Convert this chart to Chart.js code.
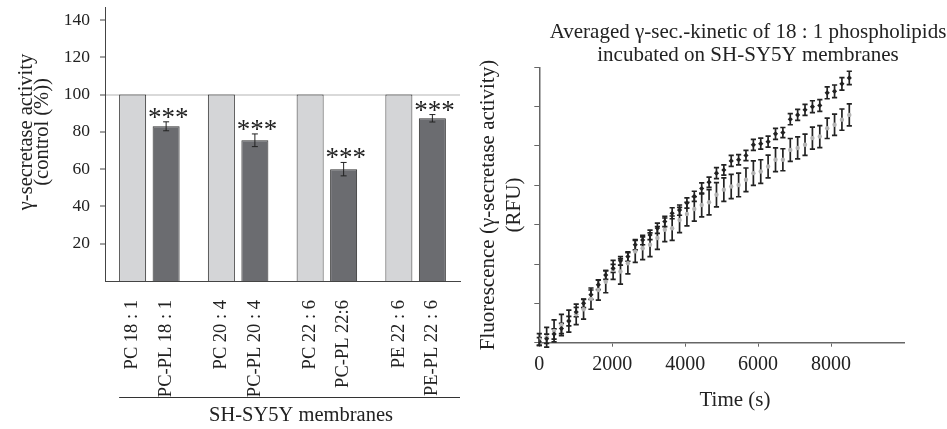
<!DOCTYPE html>
<html>
<head>
<meta charset="utf-8">
<script src="https://cdn.jsdelivr.net/npm/chart.js@4.4.1/dist/chart.umd.min.js"></script>
<style>
body { margin: 0; background: #fff; }
#barChart { position: absolute; left: 0; top: 0; }
#kineticChart { position: absolute; left: 470px; top: 0; }
</style>
</head>
<body>
<canvas id="barChart" width="470" height="429"></canvas>
<canvas id="kineticChart" width="477" height="429"></canvas>
<script>
// left panel
const barLabels = ["PC 18 : 1", "PC-PL 18 : 1", "PC 20 : 4", "PC-PL 20 : 4", "PC 22 : 6", "PC-PL 22:6", "PE 22 : 6", "PE-PL 22 : 6"];
const controlValues = [100, 100, 100, 100];
const plValues = [83, 75.5, 60, 87.3];
const plErrors = [2.4, 3.4, 3.6, 2.0];
const barTicks = [20, 40, 60, 80, 100, 120, 140];
const groupTitle = "SH-SY5Y membranes";
const barAxisTitle = ["\u03b3-secretase activity", "(control (%))"];

// right panel
const kineticTimes = [0, 202, 405, 607, 810, 1012, 1214, 1417, 1619, 1822, 2024, 2226, 2429, 2631, 2834, 3036, 3238, 3441, 3643, 3846, 4048, 4250, 4453, 4655, 4858, 5060, 5262, 5465, 5667, 5870, 6072, 6274, 6477, 6679, 6882, 7084, 7286, 7489, 7691, 7894, 8096, 8298, 8500];
const kineticControl = [0.03, 0.10, 0.22, 0.36, 0.55, 0.78, 1.00, 1.22, 1.47, 1.72, 1.89, 2.08, 2.19, 2.49, 2.61, 2.74, 2.91, 3.08, 3.29, 3.37, 3.55, 3.72, 3.92, 4.08, 4.31, 4.39, 4.62, 4.65, 4.76, 5.03, 5.06, 5.11, 5.31, 5.34, 5.68, 5.79, 5.92, 6.00, 6.03, 6.35, 6.39, 6.58, 6.73];
const kineticControlErr = [0.10, 0.12, 0.13, 0.13, 0.12, 0.12, 0.11, 0.12, 0.12, 0.11, 0.10, 0.11, 0.12, 0.13, 0.12, 0.12, 0.13, 0.13, 0.14, 0.13, 0.13, 0.13, 0.14, 0.13, 0.14, 0.13, 0.14, 0.13, 0.13, 0.14, 0.14, 0.14, 0.14, 0.13, 0.14, 0.14, 0.14, 0.15, 0.15, 0.15, 0.16, 0.16, 0.17];
const kineticPL = [0.08, 0.14, 0.30, 0.45, 0.55, 0.72, 0.85, 1.12, 1.34, 1.55, 1.85, 1.81, 2.02, 2.32, 2.40, 2.49, 2.66, 2.87, 2.91, 3.12, 3.27, 3.40, 3.50, 3.57, 3.76, 3.89, 3.97, 4.01, 4.14, 4.31, 4.35, 4.48, 4.65, 4.65, 4.90, 4.95, 5.03, 5.20, 5.24, 5.45, 5.54, 5.67, 5.79];
const kineticPLErr = [0.15, 0.25, 0.28, 0.27, 0.28, 0.26, 0.25, 0.27, 0.26, 0.28, 0.24, 0.32, 0.27, 0.28, 0.29, 0.30, 0.29, 0.30, 0.31, 0.32, 0.30, 0.31, 0.30, 0.32, 0.31, 0.30, 0.31, 0.30, 0.30, 0.31, 0.30, 0.29, 0.30, 0.28, 0.29, 0.28, 0.27, 0.28, 0.28, 0.26, 0.27, 0.27, 0.28];
const timeTicks = [0, 2000, 4000, 6000, 8000];
const rfuTicks = [0, 1, 2, 3, 4, 5, 6, 7];
const kineticTitle = ["Averaged \u03b3-sec.-kinetic of 18 : 1 phospholipids", "incubated on SH-SY5Y membranes"];
const rfuTitle = ["Fluorescence (\u03b3-secretase activity)", "(RFU)"];
const timeTitle = "Time (s)";

const FONT = '"Liberation Serif", "Times New Roman", serif';
Chart.defaults.font.family = FONT;
Chart.defaults.color = '#222';

function drawText(ctx, text, x, y, size, rot){
    ctx.save();
    ctx.translate(x, y);
    ctx.rotate(rot || 0);
    ctx.font = size + 'px ' + FONT;
    ctx.fillStyle = '#222';
    ctx.textAlign = 'center';
    ctx.textBaseline = 'middle';
    ctx.fillText(text, 0, 0);
    ctx.restore();
}

function drawErrorBar(ctx, x, top, bot, cap){
    ctx.beginPath();
    ctx.moveTo(x, top);
    ctx.lineTo(x, bot);
    ctx.moveTo(x - cap, top);
    ctx.lineTo(x + cap, top);
    ctx.moveTo(x - cap, bot);
    ctx.lineTo(x + cap, bot);
    ctx.stroke();
}

function groupedLabels(){
    let arr = [];
    for (let i = 0; i < barLabels.length; i += 2){
        arr.push([barLabels[i], barLabels[i + 1]]);
    }
    return arr;
}

const barExtras = {
    id: 'barExtras',
    afterDatasetsDraw(chart){
        const ctx = chart.ctx;
        const y = chart.scales.y;
        const bars = chart.getDatasetMeta(1).data;
        ctx.save();
        ctx.strokeStyle = '#222';
        ctx.lineWidth = 1;
        for (let i = 0; i < bars.length; i++){
            let x = bars[i].x;
            let top = y.getPixelForValue(plValues[i] + plErrors[i]);
            let bot = y.getPixelForValue(plValues[i] - plErrors[i]);
            drawErrorBar(ctx, x, top, bot, 3);
            ctx.font = '27px ' + FONT;
            ctx.fillStyle = '#222';
            ctx.textAlign = 'center';
            ctx.textBaseline = 'alphabetic';
            for (let k = -1; k <= 1; k++){
                ctx.fillText('*', x + 2 + k * 13.5, top - 10 + 14);
            }
        }
        const area = chart.chartArea;
        drawText(ctx, barAxisTitle[0], 27, 132, 20.5, -Math.PI / 2);
        drawText(ctx, barAxisTitle[1], 43, 132, 20.5, -Math.PI / 2);
        const first = chart.getDatasetMeta(0).data[0];
        ctx.strokeStyle = '#333';
        ctx.beginPath();
        ctx.moveTo(first.x - first.width / 2, 397.5);
        ctx.lineTo(area.right, 397.5);
        ctx.stroke();
        drawText(ctx, groupTitle, 301, 416, 20.5, 0);
        ctx.restore();
    }
};

new Chart(document.getElementById('barChart'), {
    type: 'bar',
    data: {
        labels: groupedLabels(),
        datasets: [{
            label: 'control',
            data: controlValues,
            backgroundColor: '#d4d5d7',
            borderColor: '#333',
            borderWidth: 1,
            categoryPercentage: 0.755,
            barPercentage: 0.806
        }, {
            label: 'phospholipid',
            data: plValues,
            backgroundColor: '#6b6c70',
            borderColor: '#333',
            borderWidth: 1,
            categoryPercentage: 0.755,
            barPercentage: 0.806
        }]
    },
    options: {
        responsive: false,
        animation: false,
        layout: { padding: { top: 7, right: 10, left: 0, bottom: 0 } },
        plugins: {
            legend: { display: false },
            tooltip: { enabled: false }
        },
        scales: {
            x: {
                grid: { display: false },
                border: { color: '#444', width: 1 },
                ticks: {
                    autoSkip: false,
                    minRotation: 90,
                    maxRotation: 90,
                    padding: 11,
                    labelOffset: -16.75,
                    font: { size: 18.5, lineHeight: 1.811 }
                },
                afterFit: function(s){ s.height = 148; s.paddingLeft = 0; s.paddingRight = 0; }
            },
            y: {
                min: 0,
                max: 147,
                afterBuildTicks: function(s){ s.ticks = barTicks.map(v => ({ value: v })); },
                grid: {
                    color: c => (c.tick && c.tick.value === 100) ? '#d9d9d9' : 'rgba(0,0,0,0)',
                    lineWidth: 2,
                    tickColor: '#444',
                    tickWidth: 1,
                    tickLength: 5
                },
                border: { color: '#444', width: 1 },
                ticks: { padding: 10, font: { size: 17.5 } },
                afterFit: function(s){ s.width = 105; s.paddingTop = 0; s.paddingBottom = 0; }
            }
        }
    },
    plugins: [barExtras]
});

function toPoints(values){
    let pts = [];
    for (let i = 0; i < values.length; i++){
        pts.push({ x: kineticTimes[i], y: values[i] });
    }
    return pts;
}

const kineticExtras = {
    id: 'kineticExtras',
    beforeDatasetsDraw(chart){
        const ctx = chart.ctx;
        const y = chart.scales.y;
        const sets = [[kineticControl, kineticControlErr], [kineticPL, kineticPLErr]];
        ctx.save();
        ctx.strokeStyle = '#222';
        ctx.lineWidth = 1.7;
        for (let d = 0; d < sets.length; d++){
            let pts = chart.getDatasetMeta(d).data;
            for (let i = 0; i < pts.length; i++){
                let top = y.getPixelForValue(sets[d][0][i] + sets[d][1][i]);
                let bot = y.getPixelForValue(sets[d][0][i] - sets[d][1][i]);
                drawErrorBar(ctx, pts[i].x, top, bot, 2.6);
            }
        }
        ctx.restore();
    },
    afterDraw(chart){
        const ctx = chart.ctx;
        drawText(ctx, kineticTitle[0], 278, 32, 21, 0);
        drawText(ctx, kineticTitle[1], 278, 55, 21, 0);
        drawText(ctx, timeTitle, 265, 400, 21, 0);
    }
};

new Chart(document.getElementById('kineticChart'), {
    type: 'scatter',
    data: {
        datasets: [{
            label: 'control',
            data: toPoints(kineticControl),
            pointStyle: 'rectRot',
            pointRadius: 2.6,
            backgroundColor: '#222',
            borderWidth: 0
        }, {
            label: 'phospholipid',
            data: toPoints(kineticPL),
            pointStyle: 'circle',
            pointRadius: 2.2,
            backgroundColor: '#b3b3b3',
            borderWidth: 0
        }]
    },
    options: {
        responsive: false,
        animation: false,
        layout: { padding: { top: 67.3, right: 43, left: 0, bottom: 0 } },
        plugins: {
            legend: { display: false },
            tooltip: { enabled: false }
        },
        scales: {
            x: {
                type: 'linear',
                min: 0,
                max: 10000,
                afterBuildTicks: function(s){ s.ticks = timeTicks.map(v => ({ value: v })); },
                grid: { drawOnChartArea: false, tickLength: 4, tickColor: '#666', tickWidth: 1 },
                border: { color: '#666', width: 1.5 },
                ticks: { padding: 6, font: { size: 20 }, callback: v => String(v) },
                afterFit: function(s){ s.height = 86.3; s.paddingLeft = 0; s.paddingRight = 0; }
            },
            y: {
                min: 0,
                max: 7,
                afterBuildTicks: function(s){ s.ticks = rfuTicks.map(v => ({ value: v })); },
                grid: { drawOnChartArea: false, tickLength: 5, tickColor: '#666', tickWidth: 1 },
                border: { color: '#666', width: 1.5 },
                ticks: { display: false },
                title: {
                    display: true,
                    text: rfuTitle,
                    font: { size: 21, lineHeight: 1.25 },
                    padding: { top: 5, bottom: 0 }
                },
                afterFit: function(s){ s.width = 69.3; s.paddingTop = 0; s.paddingBottom = 0; }
            }
        }
    },
    plugins: [kineticExtras]
});
</script>
</body>
</html>
